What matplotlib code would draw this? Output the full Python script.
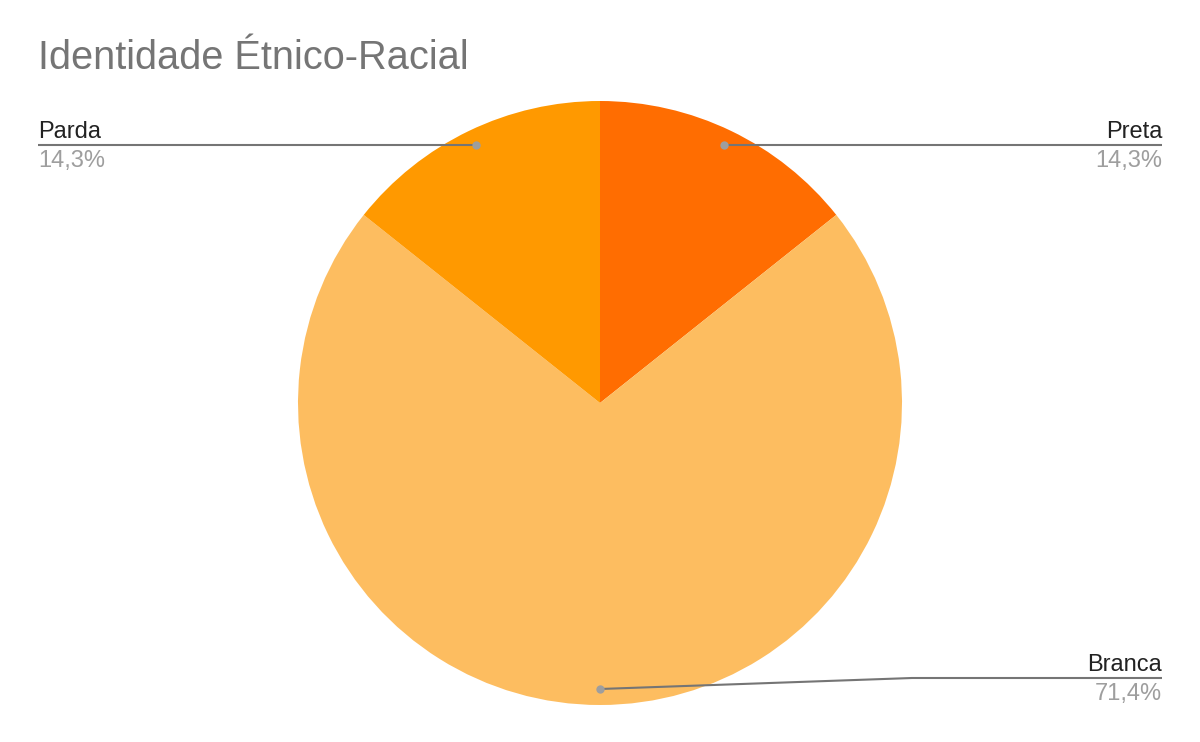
import numpy as np
import matplotlib
matplotlib.use("Agg")
from matplotlib import pyplot as plt

plt.rcParams['font.family'] = ['Liberation Sans', 'DejaVu Sans']

labels = ["Preta", "Branca", "Parda"]
values = [14.3, 71.4, 14.3]
pct_text = ["14,3%", "71,4%", "14,3%"]
colors = ["#ff6d01", "#fdbd60", "#ff9900"]


def main():
    fig = plt.figure(figsize=(12, 7.42), dpi=100)
    ax = fig.add_axes([0, 0, 1, 1])

    H = 742
    cx, cy, R = 600, H - 403, 302
    wedges, _ = ax.pie(values, colors=colors, startangle=90, counterclock=False,
                       center=(cx, cy), radius=R,
                       wedgeprops=dict(linewidth=0))
    ax.set_xlim(0, 1200)
    ax.set_ylim(0, H)
    ax.set_aspect('equal')
    ax.axis('off')

    line_col = "#757575"
    for w, lab, pct in zip(wedges, labels, pct_text):
        mid = np.deg2rad((w.theta1 + w.theta2) / 2)
        dx = cx + 0.947 * R * np.cos(mid)
        dy = cy + 0.947 * R * np.sin(mid)
        if lab == "Branca":
            ly = H - 678
            xs, ys = [dx, 912, 1162], [dy, ly, ly]
            tx, ha = 1162, 'right'
        elif dx > cx:
            ly = dy
            xs, ys = [dx, 1162], [dy, ly]
            tx, ha = 1162, 'right'
        else:
            ly = dy
            xs, ys = [dx, 38], [dy, ly]
            tx, ha = 38, 'left'
        ax.plot(xs, ys, color=line_col, lw=1.5, solid_capstyle='butt', zorder=3)
        ax.plot([dx], [dy], 'o', color="#9e9e9e", ms=6, mec='none', zorder=4)
        ax.text(tx, ly + 7, lab, ha=ha, va='baseline', fontsize=17, color="#222222")
        ax.text(tx, ly - 22, pct, ha=ha, va='baseline', fontsize=17, color="#9e9e9e")

    ax.text(38, H - 69, "Identidade Étnico-Racial", ha='left', va='baseline',
            fontsize=28.6, color="#757575")

    fig.savefig("out.png", dpi=100)


if __name__ == '__main__':
    main()
